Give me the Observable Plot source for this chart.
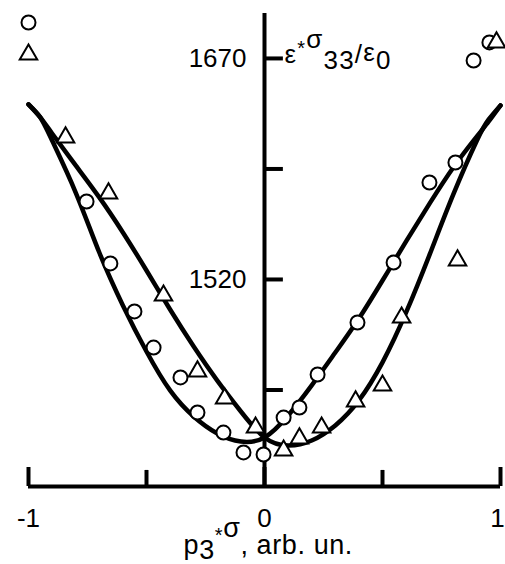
<!DOCTYPE html>
<html>
<head>
<meta charset="utf-8">
<script src="https://cdn.jsdelivr.net/npm/d3@7"></script>
<script src="https://cdn.jsdelivr.net/npm/@observablehq/plot@0.6"></script>
<style>
  html, body { margin: 0; padding: 0; background: white; }
</style>
</head>
<body>
<div id="chart"></div>
<script>
// ---- Data ----
const xTicksMajor = [-1, 0, 1];
const xTicksMinor = [-0.5, 0.5];
const xTickLabels = ["-1", "0", "1"];
const yTicks = [1445, 1520, 1595, 1670];
const yTickLabels = [1520, 1670];

// measured points: circles
const circleX = [-0.754, -0.653, -0.551, -0.470, -0.356, -0.284, -0.174, -0.089, -0.004, 0.081, 0.148, 0.225, 0.394, 0.547, 0.699, 0.809, 0.886, 0.953];
const circleY = [1572.9, 1530.9, 1498.3, 1473.8, 1453.5, 1429.7, 1416.1, 1402.6, 1401.2, 1426.3, 1433.1, 1455.5, 1490.8, 1531.5, 1585.8, 1599.4, 1668.6, 1680.9];

// measured points: triangles
const triX = [-0.843, -0.661, -0.428, -0.284, -0.169, -0.038, 0.081, 0.148, 0.242, 0.386, 0.500, 0.581, 0.818, 0.983];
const triY = [1616.4, 1578.4, 1509.1, 1457.6, 1439.2, 1419.5, 1403.9, 1412.1, 1419.5, 1437.2, 1448.0, 1494.2, 1532.9, 1680.9];

// fitted curves
const curveX = [-1, -0.95, -0.9, -0.8, -0.7, -0.6, -0.5, -0.4, -0.3, -0.2, -0.1, 0, 0.1, 0.2, 0.3, 0.4, 0.5, 0.6, 0.7, 0.8, 0.9, 0.95, 1];
const curveCircleY = [1638.8, 1630.0, 1614.3, 1579.0, 1538.3, 1502.4, 1471.1, 1444.7, 1427.0, 1415.5, 1410.0, 1412.8, 1427.7, 1448.1, 1470.4, 1493.5, 1519.3, 1545.8, 1571.6, 1596.0, 1617.1, 1627.2, 1638.1];
const curveTriY = [1638.8, 1630.0, 1619.1, 1597.4, 1575.7, 1551.9, 1526.1, 1499.6, 1474.5, 1451.4, 1430.4, 1412.8, 1407.3, 1410.7, 1420.9, 1437.9, 1463.7, 1497.6, 1537.0, 1577.7, 1614.3, 1628.6, 1638.1];

// ---- Build tables ----
const circles = circleX.map((x, i) => ({x, y: circleY[i]}));
const triangles = triX.map((x, i) => ({x, y: triY[i]}));
const curveC = curveX.map((x, i) => ({x, y: curveCircleY[i]}));
const curveT = curveX.map((x, i) => ({x, y: curveTriY[i]}));
const xLabels = xTickLabels.map((t, i) => ({x: xTicksMajor[i], t}));
const xLabelsInner = xLabels.filter(d => d.x < 1);
const xLabelsEdge = xLabels.filter(d => d.x >= 1);

const yMin = 1379.5, yMax = 1700.5;
const yTickLen = 0.08;      // tick length in x units
const xMajorLen = 12.9;    // tick length in y units
const xMinorLen = 10.9;

const font = "Liberation Sans, Arial, Helvetica, sans-serif";
const xLabelText = "p3*σ, arb. un.";
const yLabelText = "ε*σ33/ε0";

const chart = Plot.plot({
  width: 505,
  height: 564,
  marginLeft: 28,
  marginRight: 5,
  marginTop: 13,
  marginBottom: 78,
  x: {domain: [-1, 1], axis: null},
  y: {domain: [yMin, yMax], axis: null},
  style: {fontFamily: font, background: "white", color: "black", overflow: "visible"},
  marks: [
    // axes lines
    Plot.ruleY([yMin], {x1: -1, x2: 1, stroke: "black", strokeWidth: 4}),
    Plot.ruleX([0], {y1: yMin, y2: yMax, stroke: "black", strokeWidth: 4}),
    Plot.ruleY(yTicks, {x1: 0, x2: yTickLen, stroke: "black", strokeWidth: 4}),
    Plot.ruleX(xTicksMajor, {y1: yMin, y2: yMin + xMajorLen, stroke: "black", strokeWidth: 4}),
    Plot.ruleX(xTicksMinor, {y1: yMin, y2: yMin + xMinorLen, stroke: "black", strokeWidth: 4}),
    // tick labels
    Plot.text(yTickLabels, {x: 0, y: d => d, text: d => String(d), dx: -18, textAnchor: "end", fontSize: 26, fill: "black"}),
    Plot.text(xLabelsInner, {x: "x", y: () => yMin, text: "t", dy: 32, fontSize: 26, fill: "black"}),
    Plot.text(xLabelsEdge, {x: "x", y: () => yMin, text: "t", dy: 32, dx: -3, fontSize: 26, fill: "black"}),
    // curves
    Plot.line(curveC, {x: "x", y: "y", curve: "natural", stroke: "black", strokeWidth: 4.5, strokeLinecap: "round", strokeLinejoin: "round"}),
    Plot.line(curveT, {x: "x", y: "y", curve: "natural", stroke: "black", strokeWidth: 4.5, strokeLinecap: "round", strokeLinejoin: "round"}),
    // data points
    Plot.dot(circles, {x: "x", y: "y", symbol: "circle", r: 7, fill: "white", stroke: "black", strokeWidth: 2}),
    Plot.dot(triangles, {x: "x", y: "y", symbol: "triangle", r: 6.5, fill: "white", stroke: "black", strokeWidth: 2}),
    // legend symbols
    Plot.dot([0], {frameAnchor: "top-left", dy: 9, symbol: "circle", r: 7, fill: "white", stroke: "black", strokeWidth: 2}),
    Plot.dot([0], {frameAnchor: "top-left", dy: 41, symbol: "triangle", r: 6.5, fill: "white", stroke: "black", strokeWidth: 2}),
    // axis labels
    Plot.text([xLabelText], {frameAnchor: "bottom", text: d => d, dx: -81, dy: 67, textAnchor: "start", lineAnchor: "bottom", fontSize: 27, fill: "black"}),
    Plot.text([yLabelText], {frameAnchor: "top", text: d => d, dx: 20, dy: 49, textAnchor: "start", lineAnchor: "bottom", fontSize: 26, fill: "black"})
  ]
});

function richify(svg, plain, parts, spacing) {
  d3.select(svg).selectAll("text").filter(function() { return this.textContent === plain; }).each(function() {
    const t = d3.select(this);
    t.selectAll("*").remove();
    t.text(null);
    if (spacing) t.attr("letter-spacing", spacing);
    let cur = 0;
    for (const [s, shift, size] of parts) {
      const ts = t.append("tspan").text(s);
      if (shift - cur !== 0) ts.attr("dy", shift - cur);
      if (size) ts.attr("font-size", size);
      cur = shift;
    }
  });
}

richify(chart, xLabelText, [["p", 0], ["3", 5], ["*", -12, 20], ["σ", -17], [", arb. un.", 0]], 0.6);
richify(chart, yLabelText, [["ε", 0], ["*", -8, 20], ["σ", -15], ["33", 6], ["/", 0], ["ε", -2], ["0", 6]], 1.2);

document.getElementById("chart").appendChild(chart);
</script>
</body>
</html>
